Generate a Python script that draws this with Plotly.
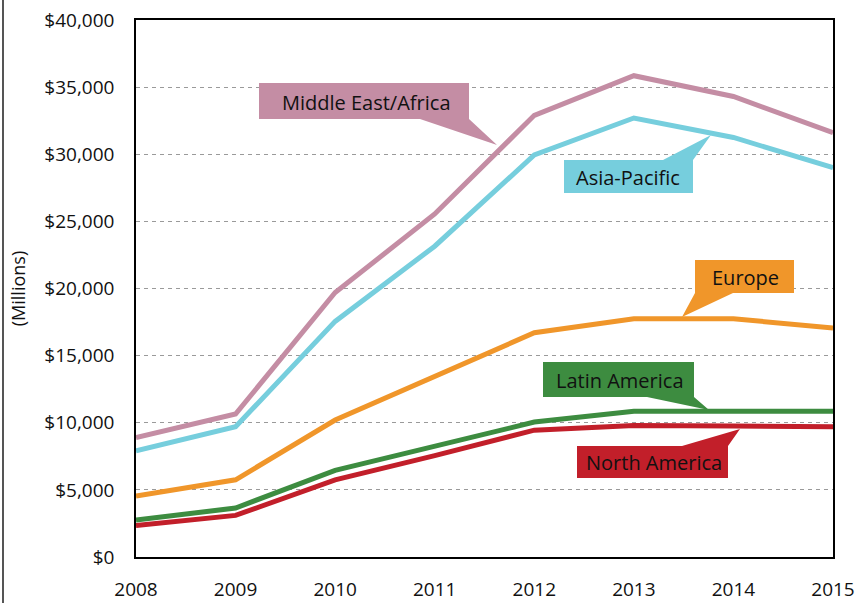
import plotly.graph_objects as go

years = [2008, 2009, 2010, 2011, 2012, 2013, 2014, 2015]
middle_east_africa = [8900, 10650, 19700, 25550, 32900, 35850, 34300, 31600]
asia_pacific = [7900, 9700, 17550, 23150, 29950, 32700, 31250, 29000]
europe = [4550, 5750, 10200, 13450, 16700, 17750, 17750, 17050]
latin_america = [2750, 3650, 6450, 8250, 10050, 10850, 10850, 10850]
north_america = [2350, 3100, 5750, 7550, 9450, 9800, 9750, 9700]

series = [
    ("North America", north_america, "#C21F2A"),
    ("Latin America", latin_america, "#3D8C40"),
    ("Europe", europe, "#F0962A"),
    ("Asia-Pacific", asia_pacific, "#76CEDD"),
    ("Middle East/Africa", middle_east_africa, "#C48DA4"),
]

W, H = 868, 603
L, R, T, B = 136, 833, 20, 557
FONT = "Open Sans"

fig = go.Figure()
for name, vals, col in series:
    fig.add_trace(go.Scatter(x=years, y=vals, mode="lines", name=name,
                             line=dict(color=col, width=5), showlegend=False))

def d(px, py):
    return (2008 + (px - L) / (R - L) * 7, (B - py) / (B - T) * 40000)

def path(pts):
    s = ""
    for i, (px, py) in enumerate(pts):
        x, y = d(px, py)
        s += ("M" if i == 0 else "L") + f"{x:.4f},{y:.2f} "
    return s + "Z"

callouts = [
    ("Middle East/Africa", "#C48DA4",
     [(259, 83), (469, 83), (469, 119), (497, 145), (420, 119), (259, 119)], (366, 102)),
    ("Asia-Pacific", "#76CEDD",
     [(564, 160), (663, 160), (711, 135), (693, 160), (693, 193), (564, 193)], (628, 177)),
    ("Europe", "#F0962A",
     [(695, 260), (794, 260), (794, 293), (733, 293), (682, 317), (695, 293)], (745, 277)),
    ("Latin America", "#3D8C40",
     [(543, 362), (694, 362), (694, 397), (709, 410), (647, 397), (543, 397)], (620, 380)),
    ("North America", "#C21F2A",
     [(577, 446), (682, 446), (740, 429), (728, 446), (728, 478), (577, 478)], (654, 462)),
]

for text, col, pts, (tx, ty) in callouts:
    fig.add_shape(type="path", path=path(pts), xref="x", yref="y",
                  fillcolor=col, line=dict(width=0), layer="between")
    ax, ay = d(tx, ty)
    fig.add_annotation(x=ax, y=ay, xref="x", yref="y", text=text, showarrow=False,
                       font=dict(family=FONT, size=20, color="#111111"))

# outer frame line at left
fig.add_shape(type="line", xref="paper", yref="paper",
              x0=(3 - L) / (R - L), x1=(3 - L) / (R - L), y0=-1, y1=2,
              line=dict(color="#555555", width=2))

fig.update_layout(
    width=W, height=H,
    margin=dict(l=L, r=W - R, t=T, b=H - B, pad=0, autoexpand=False),
    paper_bgcolor="white", plot_bgcolor="white",
    font=dict(family=FONT, size=19, color="#111111"),
    separators=".,",
)
fig.update_xaxes(range=[2008, 2015], tickmode="array", tickvals=years,
                 ticktext=[str(y) for y in years], showgrid=False, zeroline=False,
                 showline=True, linecolor="black", linewidth=1.5, mirror=True,
                 ticks="", tickfont=dict(size=19), ticklabelstandoff=14,
                 automargin=False)
fig.update_yaxes(range=[0, 40000], dtick=5000, tickprefix="$", tickformat=",d",
                 showgrid=True, gridcolor="#9a9a9a", griddash="4px,4px", gridwidth=1.2,
                 zeroline=False, showline=True, linecolor="black", linewidth=1.5,
                 mirror=True, ticks="", tickfont=dict(size=19), ticklabelstandoff=16,
                 title=dict(text="(Millions)", font=dict(size=18), standoff=14),
                 automargin=False)

fig.write_html("out.html", config={"displayModeBar": False},
               post_script="document.body.style.margin='0';")
